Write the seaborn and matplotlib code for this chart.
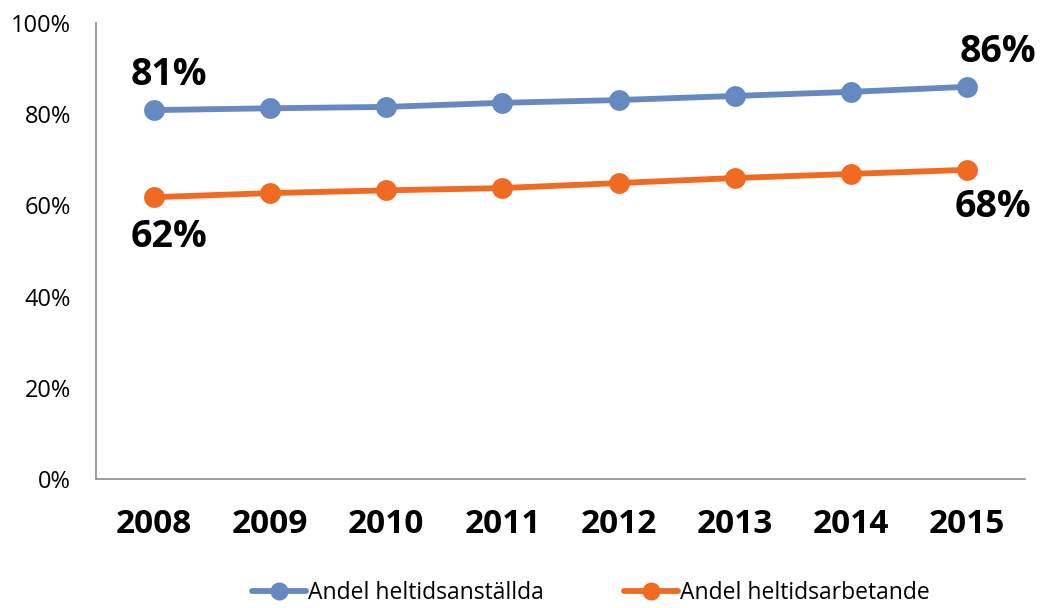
import numpy as np
import pandas as pd
import matplotlib
matplotlib.use("Agg")
import matplotlib.pyplot as plt
import seaborn as sns
from matplotlib.ticker import PercentFormatter

# Data
years = ["2008", "2009", "2010", "2011", "2012", "2013", "2014", "2015"]
anstallda = [80.9, 81.3, 81.6, 82.5, 83.1, 84.0, 84.9, 86.0]
arbetande = [61.8, 62.7, 63.3, 63.8, 64.9, 66.0, 66.9, 67.8]
series_names = ["Andel heltidsanställda", "Andel heltidsarbetande"]
colors = ["#6589C0", "#F06A22"]

df = pd.DataFrame({
    "x": list(range(len(years))) * 2,
    "value": anstallda + arbetande,
    "serie": [series_names[0]] * len(years) + [series_names[1]] * len(years),
})

sns.set_style("white")
plt.rcParams["font.family"] = ["Open Sans", "DejaVu Sans"]
plt.rcParams["text.color"] = "black"
plt.rcParams["xtick.color"] = "black"
plt.rcParams["ytick.color"] = "black"

fig = plt.figure(figsize=(10.41, 6.08), dpi=100)
ax = fig.add_axes([96 / 1041, 1 - 479 / 608, (1025 - 96) / 1041, (479 - 23) / 608])

sns.lineplot(data=df, x="x", y="value", hue="serie", palette=colors,
             marker="o", markersize=15, markeredgewidth=0, linewidth=4.2,
             ax=ax, legend=True)

ax.set_xlim(-0.5, len(years) - 0.5)
ax.set_ylim(0, 100)
ax.set_yticks(np.arange(0, 101, 20))
ax.yaxis.set_major_formatter(PercentFormatter(decimals=0))
ax.set_xticks(range(len(years)))
ax.set_xticklabels(years, fontsize=24, fontweight="bold")
ax.tick_params(axis="y", labelsize=17, length=0, pad=18)
ax.tick_params(axis="x", length=0, pad=21)
ax.set_xlabel("")
ax.set_ylabel("")

for side in ["top", "right"]:
    ax.spines[side].set_visible(False)
for side in ["left", "bottom"]:
    ax.spines[side].set_color("#8C8C8C")
    ax.spines[side].set_linewidth(1.2)

# End-point labels
last = len(years) - 1
lab = dict(fontsize=27, fontweight="bold", ha="center", va="center",
           textcoords="offset points")
ax.annotate(f"{anstallda[0]:.0f}%", (0, anstallda[0]), xytext=(11, 25), **lab)
ax.annotate(f"{anstallda[last]:.0f}%", (last, anstallda[last]), xytext=(22, 25), **lab)
ax.annotate(f"{arbetande[0]:.0f}%", (0, arbetande[0]), xytext=(11, -29), **lab)
ax.annotate(f"{arbetande[last]:.0f}%", (last, arbetande[last]), xytext=(19, -27), **lab)

leg = ax.legend(loc="center", bbox_to_anchor=(0.533, -0.25), ncol=2,
                frameon=False, fontsize=16.5, handlelength=2.35,
                handletextpad=0.1, columnspacing=3.5,
                borderpad=0, borderaxespad=0)
for h in leg.legend_handles:
    h.set_markersize(13)

fig.savefig("out.png", dpi=100)
